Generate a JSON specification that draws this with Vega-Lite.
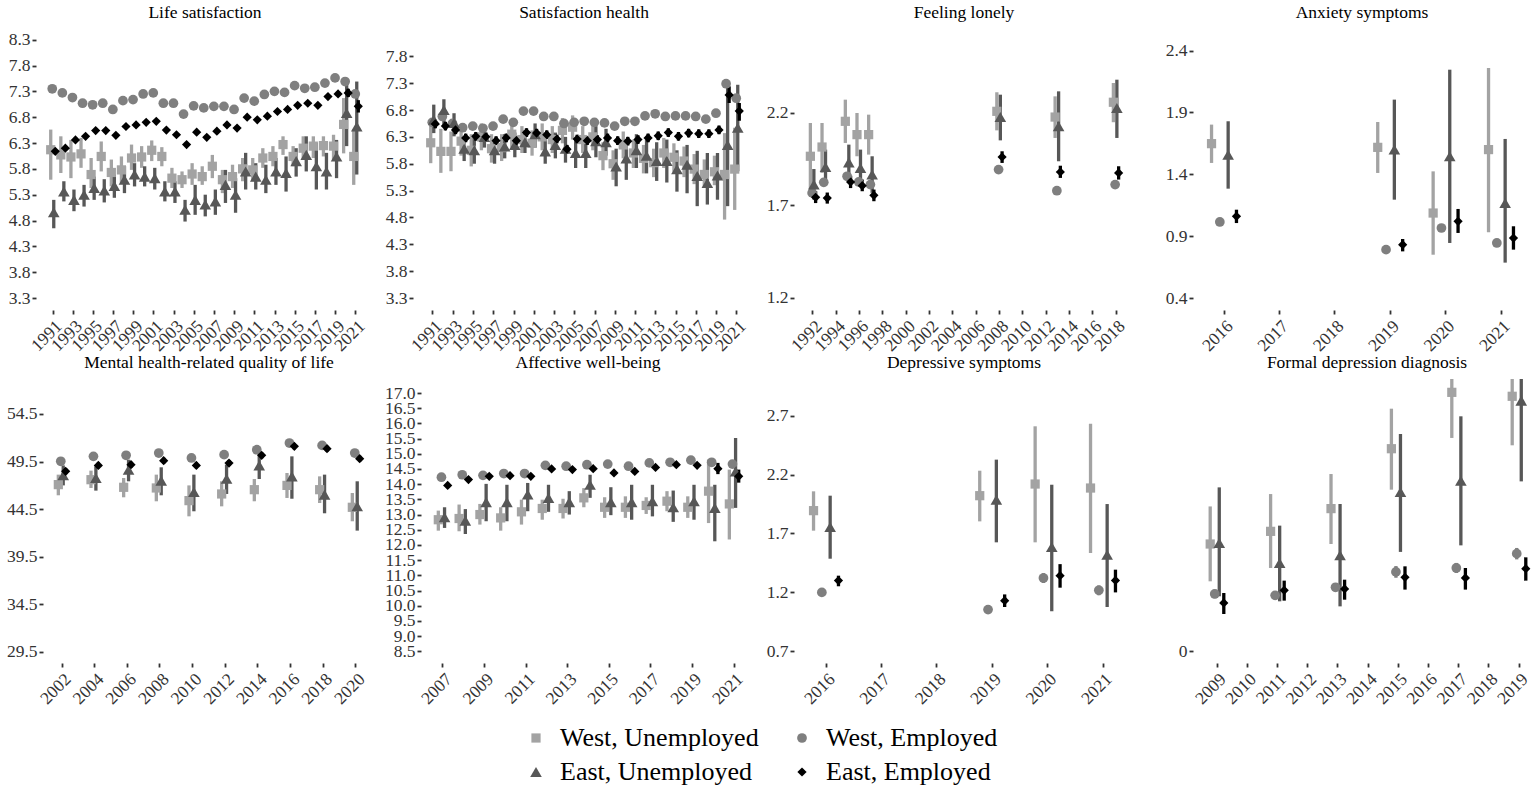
{
"$schema": "https://vega.github.io/schema/vega-lite/v6.json",
"background": "white",
"padding": {"left": 6, "top": 3, "right": 0, "bottom": 0},
"autosize": {"type": "pad"},
"config": {
 "font": "Liberation Serif",
 "view": {"stroke": null},
 "axis": {"grid": false, "domain": false, "tickColor": "#333333", "tickWidth": 1.8, "tickSize": 4, "labelFont": "Liberation Serif", "labelFontSize": 17.5, "labelColor": "#333333", "labelOverlap": false},
 "axisX": {"labelAngle": -45, "labelAlign": "right", "labelBaseline": "top", "labelPadding": 3},
 "axisY": {"labelPadding": 2},
 "title": {"font": "Liberation Serif", "fontSize": 17.5, "fontWeight": "normal", "color": "#000000", "anchor": "middle", "frame": "group", "baseline": "bottom", "offset": 8},
 "point": {"filled": true, "opacity": 1, "strokeWidth": 0},
 "rule": {"strokeWidth": 3.3}
},
"resolve": {"scale": {"xOffset": "independent"}},
"datasets": {
"life": [
{"yr":1991,"g":"WU","v":6.17,"lo":5.59,"hi":6.56},{"yr":1992,"g":"WU","v":6.07,"lo":5.72,"hi":6.43},{"yr":1993,"g":"WU","v":6.03,"lo":5.62,"hi":6.36},{"yr":1994,"g":"WU","v":6.09,"lo":5.82,"hi":6.40},{"yr":1995,"g":"WU","v":5.69,"lo":5.43,"hi":6.01},{"yr":1996,"g":"WU","v":6.04,"lo":5.75,"hi":6.33},{"yr":1997,"g":"WU","v":5.73,"lo":5.46,"hi":5.98},{"yr":1998,"g":"WU","v":5.78,"lo":5.53,"hi":6.04},{"yr":1999,"g":"WU","v":6.01,"lo":5.78,"hi":6.27},{"yr":2000,"g":"WU","v":6.03,"lo":5.82,"hi":6.24},{"yr":2001,"g":"WU","v":6.16,"lo":5.95,"hi":6.35},{"yr":2002,"g":"WU","v":6.04,"lo":5.85,"hi":6.22},{"yr":2003,"g":"WU","v":5.62,"lo":5.43,"hi":5.82},{"yr":2004,"g":"WU","v":5.59,"lo":5.43,"hi":5.75},{"yr":2005,"g":"WU","v":5.70,"lo":5.49,"hi":5.91},{"yr":2006,"g":"WU","v":5.65,"lo":5.49,"hi":5.85},{"yr":2007,"g":"WU","v":5.85,"lo":5.62,"hi":6.07},{"yr":2008,"g":"WU","v":5.59,"lo":5.33,"hi":5.78},{"yr":2009,"g":"WU","v":5.65,"lo":5.43,"hi":5.88},{"yr":2010,"g":"WU","v":5.80,"lo":5.56,"hi":6.01},{"yr":2011,"g":"WU","v":5.78,"lo":5.56,"hi":6.01},{"yr":2012,"g":"WU","v":6.01,"lo":5.82,"hi":6.20},{"yr":2013,"g":"WU","v":6.04,"lo":5.85,"hi":6.24},{"yr":2014,"g":"WU","v":6.27,"lo":6.07,"hi":6.43},{"yr":2015,"g":"WU","v":6.04,"lo":5.85,"hi":6.24},{"yr":2016,"g":"WU","v":6.20,"lo":5.98,"hi":6.43},{"yr":2017,"g":"WU","v":6.24,"lo":6.01,"hi":6.43},{"yr":2018,"g":"WU","v":6.25,"lo":6.04,"hi":6.43},{"yr":2019,"g":"WU","v":6.24,"lo":5.98,"hi":6.46},{"yr":2020,"g":"WU","v":6.66,"lo":6.10,"hi":7.17},{"yr":2021,"g":"WU","v":6.04,"lo":5.49,"hi":6.56},
{"yr":1991,"g":"WE","v":7.35,"lo":7.32,"hi":7.38},{"yr":1992,"g":"WE","v":7.27,"lo":7.24,"hi":7.30},{"yr":1993,"g":"WE","v":7.18,"lo":7.15,"hi":7.21},{"yr":1994,"g":"WE","v":7.07,"lo":7.04,"hi":7.10},{"yr":1995,"g":"WE","v":7.04,"lo":7.01,"hi":7.07},{"yr":1996,"g":"WE","v":7.07,"lo":7.04,"hi":7.10},{"yr":1997,"g":"WE","v":6.95,"lo":6.92,"hi":6.98},{"yr":1998,"g":"WE","v":7.12,"lo":7.09,"hi":7.15},{"yr":1999,"g":"WE","v":7.14,"lo":7.11,"hi":7.17},{"yr":2000,"g":"WE","v":7.25,"lo":7.22,"hi":7.28},{"yr":2001,"g":"WE","v":7.27,"lo":7.24,"hi":7.30},{"yr":2002,"g":"WE","v":7.07,"lo":7.04,"hi":7.10},{"yr":2003,"g":"WE","v":7.07,"lo":7.04,"hi":7.10},{"yr":2004,"g":"WE","v":6.86,"lo":6.83,"hi":6.89},{"yr":2005,"g":"WE","v":7.02,"lo":6.99,"hi":7.05},{"yr":2006,"g":"WE","v":6.98,"lo":6.95,"hi":7.01},{"yr":2007,"g":"WE","v":7.01,"lo":6.98,"hi":7.04},{"yr":2008,"g":"WE","v":7.01,"lo":6.98,"hi":7.04},{"yr":2009,"g":"WE","v":6.95,"lo":6.92,"hi":6.98},{"yr":2010,"g":"WE","v":7.17,"lo":7.14,"hi":7.20},{"yr":2011,"g":"WE","v":7.11,"lo":7.08,"hi":7.14},{"yr":2012,"g":"WE","v":7.24,"lo":7.21,"hi":7.27},{"yr":2013,"g":"WE","v":7.30,"lo":7.27,"hi":7.33},{"yr":2014,"g":"WE","v":7.28,"lo":7.25,"hi":7.31},{"yr":2015,"g":"WE","v":7.41,"lo":7.38,"hi":7.44},{"yr":2016,"g":"WE","v":7.36,"lo":7.33,"hi":7.39},{"yr":2017,"g":"WE","v":7.38,"lo":7.35,"hi":7.41},{"yr":2018,"g":"WE","v":7.46,"lo":7.43,"hi":7.49},{"yr":2019,"g":"WE","v":7.56,"lo":7.53,"hi":7.59},{"yr":2020,"g":"WE","v":7.49,"lo":7.45,"hi":7.53},{"yr":2021,"g":"WE","v":7.25,"lo":7.21,"hi":7.29},
{"yr":1991,"g":"EU","v":4.96,"lo":4.65,"hi":5.20},{"yr":1992,"g":"EU","v":5.36,"lo":5.17,"hi":5.56},{"yr":1993,"g":"EU","v":5.20,"lo":4.98,"hi":5.40},{"yr":1994,"g":"EU","v":5.30,"lo":5.07,"hi":5.49},{"yr":1995,"g":"EU","v":5.43,"lo":5.20,"hi":5.65},{"yr":1996,"g":"EU","v":5.38,"lo":5.15,"hi":5.60},{"yr":1997,"g":"EU","v":5.47,"lo":5.24,"hi":5.69},{"yr":1998,"g":"EU","v":5.59,"lo":5.33,"hi":5.85},{"yr":1999,"g":"EU","v":5.69,"lo":5.46,"hi":5.91},{"yr":2000,"g":"EU","v":5.65,"lo":5.46,"hi":5.85},{"yr":2001,"g":"EU","v":5.62,"lo":5.40,"hi":5.82},{"yr":2002,"g":"EU","v":5.36,"lo":5.17,"hi":5.56},{"yr":2003,"g":"EU","v":5.36,"lo":5.14,"hi":5.56},{"yr":2004,"g":"EU","v":5.01,"lo":4.78,"hi":5.20},{"yr":2005,"g":"EU","v":5.20,"lo":4.91,"hi":5.49},{"yr":2006,"g":"EU","v":5.11,"lo":4.88,"hi":5.30},{"yr":2007,"g":"EU","v":5.17,"lo":4.91,"hi":5.40},{"yr":2008,"g":"EU","v":5.49,"lo":5.14,"hi":5.78},{"yr":2009,"g":"EU","v":5.30,"lo":4.95,"hi":5.62},{"yr":2010,"g":"EU","v":5.75,"lo":5.40,"hi":6.11},{"yr":2011,"g":"EU","v":5.65,"lo":5.40,"hi":5.91},{"yr":2012,"g":"EU","v":5.59,"lo":5.33,"hi":5.88},{"yr":2013,"g":"EU","v":5.75,"lo":5.49,"hi":6.01},{"yr":2014,"g":"EU","v":5.72,"lo":5.36,"hi":6.04},{"yr":2015,"g":"EU","v":5.95,"lo":5.65,"hi":6.20},{"yr":2016,"g":"EU","v":6.07,"lo":5.75,"hi":6.43},{"yr":2017,"g":"EU","v":5.85,"lo":5.40,"hi":6.30},{"yr":2018,"g":"EU","v":5.75,"lo":5.40,"hi":6.11},{"yr":2019,"g":"EU","v":6.04,"lo":5.62,"hi":6.36},{"yr":2020,"g":"EU","v":6.88,"lo":6.24,"hi":7.49},{"yr":2021,"g":"EU","v":6.62,"lo":5.69,"hi":7.49},
{"yr":1991,"g":"EE","v":6.14,"lo":6.10,"hi":6.18},{"yr":1992,"g":"EE","v":6.20,"lo":6.16,"hi":6.24},{"yr":1993,"g":"EE","v":6.36,"lo":6.32,"hi":6.40},{"yr":1994,"g":"EE","v":6.43,"lo":6.39,"hi":6.47},{"yr":1995,"g":"EE","v":6.54,"lo":6.50,"hi":6.58},{"yr":1996,"g":"EE","v":6.54,"lo":6.50,"hi":6.58},{"yr":1997,"g":"EE","v":6.45,"lo":6.41,"hi":6.49},{"yr":1998,"g":"EE","v":6.62,"lo":6.58,"hi":6.66},{"yr":1999,"g":"EE","v":6.65,"lo":6.61,"hi":6.69},{"yr":2000,"g":"EE","v":6.70,"lo":6.66,"hi":6.74},{"yr":2001,"g":"EE","v":6.72,"lo":6.68,"hi":6.76},{"yr":2002,"g":"EE","v":6.55,"lo":6.51,"hi":6.59},{"yr":2003,"g":"EE","v":6.46,"lo":6.42,"hi":6.50},{"yr":2004,"g":"EE","v":6.27,"lo":6.23,"hi":6.31},{"yr":2005,"g":"EE","v":6.51,"lo":6.47,"hi":6.55},{"yr":2006,"g":"EE","v":6.41,"lo":6.37,"hi":6.45},{"yr":2007,"g":"EE","v":6.53,"lo":6.49,"hi":6.57},{"yr":2008,"g":"EE","v":6.65,"lo":6.61,"hi":6.69},{"yr":2009,"g":"EE","v":6.59,"lo":6.55,"hi":6.63},{"yr":2010,"g":"EE","v":6.80,"lo":6.76,"hi":6.84},{"yr":2011,"g":"EE","v":6.75,"lo":6.71,"hi":6.79},{"yr":2012,"g":"EE","v":6.82,"lo":6.78,"hi":6.86},{"yr":2013,"g":"EE","v":6.91,"lo":6.87,"hi":6.95},{"yr":2014,"g":"EE","v":6.95,"lo":6.91,"hi":6.99},{"yr":2015,"g":"EE","v":7.03,"lo":6.99,"hi":7.07},{"yr":2016,"g":"EE","v":7.07,"lo":7.03,"hi":7.11},{"yr":2017,"g":"EE","v":7.03,"lo":6.99,"hi":7.07},{"yr":2018,"g":"EE","v":7.20,"lo":7.16,"hi":7.24},{"yr":2019,"g":"EE","v":7.25,"lo":7.21,"hi":7.29},{"yr":2020,"g":"EE","v":7.27,"lo":7.19,"hi":7.35},{"yr":2021,"g":"EE","v":7.01,"lo":6.89,"hi":7.13}
],
"health": [
{"yr":1991,"g":"WU","v":6.19,"lo":5.81,"hi":6.56},{"yr":1992,"g":"WU","v":6.03,"lo":5.63,"hi":6.45},{"yr":1993,"g":"WU","v":6.03,"lo":5.66,"hi":6.40},{"yr":1994,"g":"WU","v":6.22,"lo":5.95,"hi":6.45},{"yr":1995,"g":"WU","v":6.05,"lo":5.75,"hi":6.35},{"yr":1996,"g":"WU","v":6.30,"lo":6.05,"hi":6.55},{"yr":1997,"g":"WU","v":6.08,"lo":5.82,"hi":6.35},{"yr":1998,"g":"WU","v":6.10,"lo":5.85,"hi":6.35},{"yr":1999,"g":"WU","v":6.35,"lo":6.10,"hi":6.60},{"yr":2000,"g":"WU","v":6.25,"lo":6.00,"hi":6.50},{"yr":2001,"g":"WU","v":6.18,"lo":5.95,"hi":6.42},{"yr":2002,"g":"WU","v":6.30,"lo":6.05,"hi":6.55},{"yr":2003,"g":"WU","v":6.25,"lo":6.00,"hi":6.50},{"yr":2004,"g":"WU","v":6.42,"lo":6.18,"hi":6.65},{"yr":2005,"g":"WU","v":6.48,"lo":6.25,"hi":6.70},{"yr":2006,"g":"WU","v":6.25,"lo":6.00,"hi":6.50},{"yr":2007,"g":"WU","v":6.30,"lo":6.05,"hi":6.55},{"yr":2008,"g":"WU","v":5.95,"lo":5.68,"hi":6.20},{"yr":2009,"g":"WU","v":5.80,"lo":5.50,"hi":6.05},{"yr":2010,"g":"WU","v":6.15,"lo":5.90,"hi":6.40},{"yr":2011,"g":"WU","v":6.00,"lo":5.72,"hi":6.25},{"yr":2012,"g":"WU","v":5.90,"lo":5.62,"hi":6.15},{"yr":2013,"g":"WU","v":5.82,"lo":5.55,"hi":6.08},{"yr":2014,"g":"WU","v":6.00,"lo":5.72,"hi":6.28},{"yr":2015,"g":"WU","v":5.92,"lo":5.65,"hi":6.18},{"yr":2016,"g":"WU","v":5.85,"lo":5.55,"hi":6.12},{"yr":2017,"g":"WU","v":5.70,"lo":5.42,"hi":5.98},{"yr":2018,"g":"WU","v":5.60,"lo":5.35,"hi":5.88},{"yr":2019,"g":"WU","v":5.65,"lo":5.40,"hi":5.95},{"yr":2020,"g":"WU","v":5.60,"lo":4.76,"hi":6.37},{"yr":2021,"g":"WU","v":5.70,"lo":4.94,"hi":6.47},
{"yr":1991,"g":"WE","v":6.57,"lo":6.53,"hi":6.61},{"yr":1992,"g":"WE","v":6.68,"lo":6.64,"hi":6.72},{"yr":1993,"g":"WE","v":6.55,"lo":6.51,"hi":6.59},{"yr":1994,"g":"WE","v":6.47,"lo":6.43,"hi":6.51},{"yr":1995,"g":"WE","v":6.50,"lo":6.46,"hi":6.54},{"yr":1996,"g":"WE","v":6.46,"lo":6.42,"hi":6.50},{"yr":1997,"g":"WE","v":6.50,"lo":6.46,"hi":6.54},{"yr":1998,"g":"WE","v":6.63,"lo":6.59,"hi":6.67},{"yr":1999,"g":"WE","v":6.57,"lo":6.53,"hi":6.61},{"yr":2000,"g":"WE","v":6.78,"lo":6.74,"hi":6.82},{"yr":2001,"g":"WE","v":6.78,"lo":6.74,"hi":6.82},{"yr":2002,"g":"WE","v":6.68,"lo":6.64,"hi":6.72},{"yr":2003,"g":"WE","v":6.68,"lo":6.64,"hi":6.72},{"yr":2004,"g":"WE","v":6.55,"lo":6.51,"hi":6.59},{"yr":2005,"g":"WE","v":6.57,"lo":6.53,"hi":6.61},{"yr":2006,"g":"WE","v":6.59,"lo":6.55,"hi":6.63},{"yr":2007,"g":"WE","v":6.57,"lo":6.53,"hi":6.61},{"yr":2008,"g":"WE","v":6.56,"lo":6.52,"hi":6.60},{"yr":2009,"g":"WE","v":6.50,"lo":6.46,"hi":6.54},{"yr":2010,"g":"WE","v":6.59,"lo":6.55,"hi":6.63},{"yr":2011,"g":"WE","v":6.59,"lo":6.55,"hi":6.63},{"yr":2012,"g":"WE","v":6.69,"lo":6.65,"hi":6.73},{"yr":2013,"g":"WE","v":6.73,"lo":6.69,"hi":6.77},{"yr":2014,"g":"WE","v":6.68,"lo":6.64,"hi":6.72},{"yr":2015,"g":"WE","v":6.69,"lo":6.65,"hi":6.73},{"yr":2016,"g":"WE","v":6.69,"lo":6.65,"hi":6.73},{"yr":2017,"g":"WE","v":6.68,"lo":6.64,"hi":6.72},{"yr":2018,"g":"WE","v":6.63,"lo":6.59,"hi":6.67},{"yr":2019,"g":"WE","v":6.74,"lo":6.70,"hi":6.78},{"yr":2020,"g":"WE","v":7.29,"lo":7.24,"hi":7.34},{"yr":2021,"g":"WE","v":7.02,"lo":6.97,"hi":7.07},
{"yr":1991,"g":"EU","v":6.62,"lo":6.37,"hi":6.90},{"yr":1992,"g":"EU","v":6.80,"lo":6.50,"hi":7.00},{"yr":1993,"g":"EU","v":6.56,"lo":6.31,"hi":6.74},{"yr":1994,"g":"EU","v":6.08,"lo":5.85,"hi":6.30},{"yr":1995,"g":"EU","v":6.05,"lo":5.80,"hi":6.30},{"yr":1996,"g":"EU","v":6.30,"lo":6.10,"hi":6.50},{"yr":1997,"g":"EU","v":6.05,"lo":5.80,"hi":6.25},{"yr":1998,"g":"EU","v":6.12,"lo":5.90,"hi":6.35},{"yr":1999,"g":"EU","v":6.15,"lo":5.92,"hi":6.38},{"yr":2000,"g":"EU","v":6.20,"lo":6.00,"hi":6.42},{"yr":2001,"g":"EU","v":6.35,"lo":6.10,"hi":6.55},{"yr":2002,"g":"EU","v":6.03,"lo":5.80,"hi":6.25},{"yr":2003,"g":"EU","v":6.15,"lo":5.90,"hi":6.38},{"yr":2004,"g":"EU","v":6.08,"lo":5.82,"hi":6.30},{"yr":2005,"g":"EU","v":6.00,"lo":5.72,"hi":6.25},{"yr":2006,"g":"EU","v":6.00,"lo":5.72,"hi":6.28},{"yr":2007,"g":"EU","v":6.22,"lo":5.92,"hi":6.50},{"yr":2008,"g":"EU","v":6.20,"lo":5.95,"hi":6.45},{"yr":2009,"g":"EU","v":5.75,"lo":5.38,"hi":6.08},{"yr":2010,"g":"EU","v":5.90,"lo":5.50,"hi":6.25},{"yr":2011,"g":"EU","v":6.05,"lo":5.72,"hi":6.35},{"yr":2012,"g":"EU","v":5.95,"lo":5.62,"hi":6.25},{"yr":2013,"g":"EU","v":5.85,"lo":5.48,"hi":6.20},{"yr":2014,"g":"EU","v":5.85,"lo":5.45,"hi":6.25},{"yr":2015,"g":"EU","v":5.70,"lo":5.28,"hi":6.05},{"yr":2016,"g":"EU","v":5.78,"lo":5.25,"hi":6.15},{"yr":2017,"g":"EU","v":5.57,"lo":5.01,"hi":6.04},{"yr":2018,"g":"EU","v":5.44,"lo":5.04,"hi":6.00},{"yr":2019,"g":"EU","v":5.58,"lo":5.13,"hi":6.00},{"yr":2020,"g":"EU","v":6.15,"lo":5.01,"hi":7.24},{"yr":2021,"g":"EU","v":6.47,"lo":5.66,"hi":7.27},
{"yr":1991,"g":"EE","v":6.54,"lo":6.46,"hi":6.62},{"yr":1992,"g":"EE","v":6.50,"lo":6.42,"hi":6.58},{"yr":1993,"g":"EE","v":6.43,"lo":6.35,"hi":6.51},{"yr":1994,"g":"EE","v":6.28,"lo":6.20,"hi":6.36},{"yr":1995,"g":"EE","v":6.31,"lo":6.23,"hi":6.39},{"yr":1996,"g":"EE","v":6.30,"lo":6.22,"hi":6.38},{"yr":1997,"g":"EE","v":6.23,"lo":6.15,"hi":6.31},{"yr":1998,"g":"EE","v":6.28,"lo":6.20,"hi":6.36},{"yr":1999,"g":"EE","v":6.23,"lo":6.15,"hi":6.31},{"yr":2000,"g":"EE","v":6.38,"lo":6.30,"hi":6.46},{"yr":2001,"g":"EE","v":6.37,"lo":6.29,"hi":6.45},{"yr":2002,"g":"EE","v":6.34,"lo":6.26,"hi":6.42},{"yr":2003,"g":"EE","v":6.26,"lo":6.18,"hi":6.34},{"yr":2004,"g":"EE","v":6.07,"lo":5.99,"hi":6.15},{"yr":2005,"g":"EE","v":6.26,"lo":6.18,"hi":6.34},{"yr":2006,"g":"EE","v":6.23,"lo":6.15,"hi":6.31},{"yr":2007,"g":"EE","v":6.25,"lo":6.17,"hi":6.33},{"yr":2008,"g":"EE","v":6.28,"lo":6.20,"hi":6.36},{"yr":2009,"g":"EE","v":6.23,"lo":6.15,"hi":6.31},{"yr":2010,"g":"EE","v":6.22,"lo":6.14,"hi":6.30},{"yr":2011,"g":"EE","v":6.25,"lo":6.17,"hi":6.33},{"yr":2012,"g":"EE","v":6.28,"lo":6.20,"hi":6.36},{"yr":2013,"g":"EE","v":6.32,"lo":6.24,"hi":6.40},{"yr":2014,"g":"EE","v":6.38,"lo":6.30,"hi":6.46},{"yr":2015,"g":"EE","v":6.31,"lo":6.23,"hi":6.39},{"yr":2016,"g":"EE","v":6.37,"lo":6.29,"hi":6.45},{"yr":2017,"g":"EE","v":6.36,"lo":6.28,"hi":6.44},{"yr":2018,"g":"EE","v":6.36,"lo":6.28,"hi":6.44},{"yr":2019,"g":"EE","v":6.43,"lo":6.35,"hi":6.51},{"yr":2020,"g":"EE","v":7.08,"lo":6.93,"hi":7.24},{"yr":2021,"g":"EE","v":6.78,"lo":6.60,"hi":6.93}
],
"lonely": [
{"yr":1992,"g":"WU","v":1.966,"lo":1.786,"hi":2.146},{"yr":1993,"g":"WU","v":2.016,"lo":1.876,"hi":2.146},{"yr":1995,"g":"WU","v":2.155,"lo":2.038,"hi":2.272},{"yr":1996,"g":"WU","v":2.083,"lo":1.966,"hi":2.2},{"yr":1997,"g":"WU","v":2.083,"lo":1.975,"hi":2.191},{"yr":2008,"g":"WU","v":2.209,"lo":2.106,"hi":2.312},{"yr":2013,"g":"WU","v":2.178,"lo":2.065,"hi":2.29},{"yr":2018,"g":"WU","v":2.258,"lo":2.15,"hi":2.362},
{"yr":1992,"g":"WE","v":1.768,"lo":1.76,"hi":1.776},{"yr":1993,"g":"WE","v":1.825,"lo":1.817,"hi":1.833},{"yr":1995,"g":"WE","v":1.858,"lo":1.85,"hi":1.866},{"yr":1996,"g":"WE","v":1.827,"lo":1.819,"hi":1.835},{"yr":1997,"g":"WE","v":1.813,"lo":1.805,"hi":1.821},{"yr":2008,"g":"WE","v":1.894,"lo":1.886,"hi":1.902},{"yr":2013,"g":"WE","v":1.78,"lo":1.772,"hi":1.788},{"yr":2018,"g":"WE","v":1.813,"lo":1.805,"hi":1.821},
{"yr":1992,"g":"EU","v":1.813,"lo":1.732,"hi":1.897},{"yr":1993,"g":"EU","v":1.908,"lo":1.813,"hi":2.002},{"yr":1995,"g":"EU","v":1.933,"lo":1.822,"hi":2.029},{"yr":1996,"g":"EU","v":1.903,"lo":1.804,"hi":2.002},{"yr":1997,"g":"EU","v":1.867,"lo":1.768,"hi":1.966},{"yr":2008,"g":"EU","v":2.178,"lo":2.052,"hi":2.299},{"yr":2013,"g":"EU","v":2.128,"lo":1.939,"hi":2.317},{"yr":2018,"g":"EU","v":2.227,"lo":2.065,"hi":2.38},
{"yr":1992,"g":"EE","v":1.744,"lo":1.713,"hi":1.777},{"yr":1993,"g":"EE","v":1.74,"lo":1.71,"hi":1.77},{"yr":1995,"g":"EE","v":1.827,"lo":1.794,"hi":1.861},{"yr":1996,"g":"EE","v":1.807,"lo":1.777,"hi":1.84},{"yr":1997,"g":"EE","v":1.755,"lo":1.723,"hi":1.786},{"yr":2008,"g":"EE","v":1.962,"lo":1.93,"hi":1.993},{"yr":2013,"g":"EE","v":1.881,"lo":1.849,"hi":1.915},{"yr":2018,"g":"EE","v":1.876,"lo":1.84,"hi":1.912}
],
"anx": [
{"yr":2016,"g":"WU","v":1.648,"lo":1.492,"hi":1.802},{"yr":2019,"g":"WU","v":1.618,"lo":1.411,"hi":1.823},{"yr":2020,"g":"WU","v":1.087,"lo":0.75,"hi":1.424},{"yr":2021,"g":"WU","v":1.6,"lo":0.931,"hi":2.26},
{"yr":2016,"g":"WE","v":1.015,"lo":1.0,"hi":1.03},{"yr":2019,"g":"WE","v":0.791,"lo":0.78,"hi":0.8},{"yr":2020,"g":"WE","v":0.966,"lo":0.94,"hi":0.99},{"yr":2021,"g":"WE","v":0.845,"lo":0.82,"hi":0.87},
{"yr":2016,"g":"EU","v":1.559,"lo":1.284,"hi":1.829},{"yr":2019,"g":"EU","v":1.6,"lo":1.195,"hi":2.004},{"yr":2020,"g":"EU","v":1.546,"lo":0.845,"hi":2.246},{"yr":2021,"g":"EU","v":1.168,"lo":0.686,"hi":1.686},
{"yr":2016,"g":"EE","v":1.06,"lo":1.006,"hi":1.114},{"yr":2019,"g":"EE","v":0.831,"lo":0.777,"hi":0.877},{"yr":2020,"g":"EE","v":1.02,"lo":0.926,"hi":1.12},{"yr":2021,"g":"EE","v":0.885,"lo":0.791,"hi":0.98}
],
"mhq": [
{"yr":2002,"g":"WU","v":47.08,"lo":45.96,"hi":48.13},{"yr":2004,"g":"WU","v":47.6,"lo":46.73,"hi":48.55},{"yr":2006,"g":"WU","v":46.8,"lo":45.75,"hi":47.78},{"yr":2008,"g":"WU","v":46.73,"lo":45.33,"hi":48.13},{"yr":2010,"g":"WU","v":45.4,"lo":43.75,"hi":47.0},{"yr":2012,"g":"WU","v":46.1,"lo":44.8,"hi":47.43},{"yr":2014,"g":"WU","v":46.55,"lo":45.33,"hi":47.67},{"yr":2016,"g":"WU","v":47.0,"lo":45.68,"hi":48.3},{"yr":2018,"g":"WU","v":46.55,"lo":45.15,"hi":47.95},{"yr":2020,"g":"WU","v":44.7,"lo":43.23,"hi":46.2},
{"yr":2002,"g":"WE","v":49.53,"lo":49.38,"hi":49.68},{"yr":2004,"g":"WE","v":50.05,"lo":49.9,"hi":50.2},{"yr":2006,"g":"WE","v":50.16,"lo":50.01,"hi":50.31},{"yr":2008,"g":"WE","v":50.4,"lo":50.25,"hi":50.55},{"yr":2010,"g":"WE","v":49.88,"lo":49.73,"hi":50.03},{"yr":2012,"g":"WE","v":50.23,"lo":50.08,"hi":50.38},{"yr":2014,"g":"WE","v":50.75,"lo":50.6,"hi":50.9},{"yr":2016,"g":"WE","v":51.45,"lo":51.3,"hi":51.6},{"yr":2018,"g":"WE","v":51.2,"lo":51.05,"hi":51.35},{"yr":2020,"g":"WE","v":50.4,"lo":50.25,"hi":50.55},
{"yr":2002,"g":"EU","v":48.06,"lo":47.0,"hi":49.1},{"yr":2004,"g":"EU","v":47.78,"lo":46.45,"hi":49.0},{"yr":2006,"g":"EU","v":48.65,"lo":47.43,"hi":49.7},{"yr":2008,"g":"EU","v":47.5,"lo":45.96,"hi":48.9},{"yr":2010,"g":"EU","v":46.3,"lo":44.28,"hi":48.13},{"yr":2012,"g":"EU","v":47.7,"lo":46.1,"hi":49.18},{"yr":2014,"g":"EU","v":49.1,"lo":47.67,"hi":50.3},{"yr":2016,"g":"EU","v":47.95,"lo":45.6,"hi":50.05},{"yr":2018,"g":"EU","v":46.03,"lo":44.07,"hi":48.13},{"yr":2020,"g":"EU","v":44.8,"lo":42.25,"hi":47.43},
{"yr":2002,"g":"EE","v":48.48,"lo":48.18,"hi":48.78},{"yr":2004,"g":"EE","v":49.1,"lo":48.8,"hi":49.4},{"yr":2006,"g":"EE","v":49.18,"lo":48.88,"hi":49.48},{"yr":2008,"g":"EE","v":49.6,"lo":49.3,"hi":49.9},{"yr":2010,"g":"EE","v":49.1,"lo":48.8,"hi":49.4},{"yr":2012,"g":"EE","v":49.35,"lo":49.05,"hi":49.65},{"yr":2014,"g":"EE","v":50.16,"lo":49.86,"hi":50.46},{"yr":2016,"g":"EE","v":51.1,"lo":50.8,"hi":51.4},{"yr":2018,"g":"EE","v":50.86,"lo":50.56,"hi":51.16},{"yr":2020,"g":"EE","v":49.81,"lo":49.51,"hi":50.11}
],
"aff": [
{"yr":2007,"g":"WU","v":12.83,"lo":12.47,"hi":13.13},{"yr":2008,"g":"WU","v":12.87,"lo":12.45,"hi":13.33},{"yr":2009,"g":"WU","v":13.0,"lo":12.67,"hi":13.35},{"yr":2010,"g":"WU","v":12.89,"lo":12.47,"hi":13.24},{"yr":2011,"g":"WU","v":13.09,"lo":12.67,"hi":13.49},{"yr":2012,"g":"WU","v":13.2,"lo":12.83,"hi":13.49},{"yr":2013,"g":"WU","v":13.2,"lo":12.87,"hi":13.52},{"yr":2014,"g":"WU","v":13.55,"lo":13.24,"hi":13.87},{"yr":2015,"g":"WU","v":13.24,"lo":12.89,"hi":13.57},{"yr":2016,"g":"WU","v":13.24,"lo":12.89,"hi":13.6},{"yr":2017,"g":"WU","v":13.3,"lo":13.02,"hi":13.57},{"yr":2018,"g":"WU","v":13.44,"lo":13.11,"hi":13.77},{"yr":2019,"g":"WU","v":13.24,"lo":12.89,"hi":13.6},{"yr":2020,"g":"WU","v":13.77,"lo":12.72,"hi":14.81},{"yr":2021,"g":"WU","v":13.35,"lo":12.18,"hi":14.48},
{"yr":2007,"g":"WE","v":14.23,"lo":14.2,"hi":14.26},{"yr":2008,"g":"WE","v":14.31,"lo":14.28,"hi":14.34},{"yr":2009,"g":"WE","v":14.29,"lo":14.26,"hi":14.32},{"yr":2010,"g":"WE","v":14.35,"lo":14.32,"hi":14.38},{"yr":2011,"g":"WE","v":14.35,"lo":14.32,"hi":14.38},{"yr":2012,"g":"WE","v":14.62,"lo":14.59,"hi":14.65},{"yr":2013,"g":"WE","v":14.59,"lo":14.56,"hi":14.62},{"yr":2014,"g":"WE","v":14.64,"lo":14.61,"hi":14.67},{"yr":2015,"g":"WE","v":14.66,"lo":14.63,"hi":14.69},{"yr":2016,"g":"WE","v":14.59,"lo":14.56,"hi":14.62},{"yr":2017,"g":"WE","v":14.7,"lo":14.67,"hi":14.73},{"yr":2018,"g":"WE","v":14.72,"lo":14.69,"hi":14.75},{"yr":2019,"g":"WE","v":14.79,"lo":14.76,"hi":14.82},{"yr":2020,"g":"WE","v":14.72,"lo":14.68,"hi":14.76},{"yr":2021,"g":"WE","v":14.66,"lo":14.62,"hi":14.7},
{"yr":2007,"g":"EU","v":12.91,"lo":12.56,"hi":13.24},{"yr":2008,"g":"EU","v":12.8,"lo":12.36,"hi":13.18},{"yr":2009,"g":"EU","v":13.41,"lo":12.78,"hi":14.01},{"yr":2010,"g":"EU","v":13.41,"lo":12.78,"hi":13.98},{"yr":2011,"g":"EU","v":13.66,"lo":13.11,"hi":14.04},{"yr":2012,"g":"EU","v":13.55,"lo":13.09,"hi":13.98},{"yr":2013,"g":"EU","v":13.41,"lo":13.0,"hi":13.77},{"yr":2014,"g":"EU","v":13.98,"lo":13.55,"hi":14.31},{"yr":2015,"g":"EU","v":13.41,"lo":12.98,"hi":13.9},{"yr":2016,"g":"EU","v":13.41,"lo":12.83,"hi":13.98},{"yr":2017,"g":"EU","v":13.44,"lo":12.94,"hi":13.98},{"yr":2018,"g":"EU","v":13.24,"lo":12.76,"hi":13.79},{"yr":2019,"g":"EU","v":13.44,"lo":12.83,"hi":13.98},{"yr":2020,"g":"EU","v":13.22,"lo":12.12,"hi":13.98},{"yr":2021,"g":"EU","v":14.42,"lo":13.22,"hi":15.52},
{"yr":2007,"g":"EE","v":13.96,"lo":13.91,"hi":14.01},{"yr":2008,"g":"EE","v":14.15,"lo":14.1,"hi":14.2},{"yr":2009,"g":"EE","v":14.26,"lo":14.21,"hi":14.31},{"yr":2010,"g":"EE","v":14.28,"lo":14.23,"hi":14.33},{"yr":2011,"g":"EE","v":14.26,"lo":14.21,"hi":14.31},{"yr":2012,"g":"EE","v":14.5,"lo":14.45,"hi":14.55},{"yr":2013,"g":"EE","v":14.48,"lo":14.43,"hi":14.53},{"yr":2014,"g":"EE","v":14.51,"lo":14.46,"hi":14.56},{"yr":2015,"g":"EE","v":14.37,"lo":14.32,"hi":14.42},{"yr":2016,"g":"EE","v":14.42,"lo":14.37,"hi":14.47},{"yr":2017,"g":"EE","v":14.55,"lo":14.5,"hi":14.6},{"yr":2018,"g":"EE","v":14.64,"lo":14.59,"hi":14.69},{"yr":2019,"g":"EE","v":14.62,"lo":14.57,"hi":14.67},{"yr":2020,"g":"EE","v":14.51,"lo":14.33,"hi":14.7},{"yr":2021,"g":"EE","v":14.26,"lo":14.05,"hi":14.48}
],
"dep": [
{"yr":2016,"g":"WU","v":1.894,"lo":1.724,"hi":2.058},{"yr":2019,"g":"WU","v":2.021,"lo":1.803,"hi":2.233},{"yr":2020,"g":"WU","v":2.12,"lo":1.625,"hi":2.61},{"yr":2021,"g":"WU","v":2.086,"lo":1.535,"hi":2.632},
{"yr":2016,"g":"WE","v":1.2,"lo":1.19,"hi":1.21},{"yr":2019,"g":"WE","v":1.054,"lo":1.045,"hi":1.063},{"yr":2020,"g":"WE","v":1.322,"lo":1.28,"hi":1.364},{"yr":2021,"g":"WE","v":1.218,"lo":1.176,"hi":1.26},
{"yr":2016,"g":"EU","v":1.755,"lo":1.486,"hi":2.021},{"yr":2019,"g":"EU","v":1.987,"lo":1.625,"hi":2.327},{"yr":2020,"g":"EU","v":1.585,"lo":1.04,"hi":2.114},{"yr":2021,"g":"EU","v":1.52,"lo":1.076,"hi":1.95},
{"yr":2016,"g":"EE","v":1.3,"lo":1.252,"hi":1.342},{"yr":2019,"g":"EE","v":1.13,"lo":1.076,"hi":1.183},{"yr":2020,"g":"EE","v":1.342,"lo":1.24,"hi":1.44},{"yr":2021,"g":"EE","v":1.302,"lo":1.2,"hi":1.393}
],
"diag": [
{"yr":2009,"g":"WU","v":0.0788,"lo":0.0514,"hi":0.1064},{"yr":2011,"g":"WU","v":0.0881,"lo":0.0612,"hi":0.1155},{"yr":2013,"g":"WU","v":0.1048,"lo":0.0788,"hi":0.1302},{"yr":2015,"g":"WU","v":0.1488,"lo":0.1187,"hi":0.1782},{"yr":2017,"g":"WU","v":0.1902,"lo":0.1567,"hi":0.215},{"yr":2019,"g":"WU","v":0.1873,"lo":0.1513,"hi":0.215},
{"yr":2009,"g":"WE","v":0.0421,"lo":0.039,"hi":0.0452},{"yr":2011,"g":"WE","v":0.0411,"lo":0.038,"hi":0.0442},{"yr":2013,"g":"WE","v":0.047,"lo":0.0439,"hi":0.0501},{"yr":2015,"g":"WE","v":0.0583,"lo":0.054,"hi":0.0626},{"yr":2017,"g":"WE","v":0.0612,"lo":0.0575,"hi":0.0649},{"yr":2019,"g":"WE","v":0.0717,"lo":0.0675,"hi":0.0759},
{"yr":2009,"g":"EU","v":0.0796,"lo":0.0404,"hi":0.1204},{"yr":2011,"g":"EU","v":0.0649,"lo":0.0367,"hi":0.0923},{"yr":2013,"g":"EU","v":0.0705,"lo":0.033,"hi":0.1082},{"yr":2015,"g":"EU","v":0.117,"lo":0.073,"hi":0.1596},{"yr":2017,"g":"EU","v":0.1253,"lo":0.0778,"hi":0.1726},{"yr":2019,"g":"EU","v":0.1841,"lo":0.1248,"hi":0.22},
{"yr":2009,"g":"EE","v":0.0355,"lo":0.0274,"hi":0.0428},{"yr":2011,"g":"EE","v":0.0448,"lo":0.0372,"hi":0.0519},{"yr":2013,"g":"EE","v":0.0458,"lo":0.0379,"hi":0.0526},{"yr":2015,"g":"EE","v":0.0543,"lo":0.0453,"hi":0.0624},{"yr":2017,"g":"EE","v":0.0539,"lo":0.0453,"hi":0.0612},{"yr":2019,"g":"EE","v":0.0607,"lo":0.0519,"hi":0.069}
]
},
"bounds": "flush",
"columns": 4,
"spacing": {"row": 69, "column": 0},
"concat": [
{"title": {"text": "Life satisfaction", "dx": -19.5}, "width": 377, "height": 281, "data": {"name": "life"},
 "encoding": {"x": {"field": "yr", "type": "ordinal", "title": null, "scale": {"type": "band", "domain": [1991,1992,1993,1994,1995,1996,1997,1998,1999,2000,2001,2002,2003,2004,2005,2006,2007,2008,2009,2010,2011,2012,2013,2014,2015,2016,2017,2018,2019,2020,2021], "paddingInner": 0.4, "paddingOuter": 0, "range": [13.97, 323.03]}, "axis": {"values": [1991,1993,1995,1997,1999,2001,2003,2005,2007,2009,2011,2013,2015,2017,2019,2021]}},
  "xOffset": {"field": "g", "type": "nominal", "scale": {"domain": ["WU","WE","EU","EE"], "paddingInner": 0, "paddingOuter": 0}},
  "y": {"field": "v", "type": "quantitative", "title": null, "scale": {"domain": [3.068, 8.507], "nice": false, "zero": false}, "axis": {"values": [3.3,3.8,4.3,4.8,5.3,5.8,6.3,6.8,7.3,7.8,8.3], "format": ".1f"}}},
 "layer": [
  {"transform": [{"filter": "datum.g == 'WU'"}], "mark": {"type": "rule", "color": "#a3a3a3"}, "encoding": {"y": {"field": "lo", "type": "quantitative"}, "y2": {"field": "hi"}}},
  {"transform": [{"filter": "datum.g == 'WE'"}], "mark": {"type": "rule", "color": "#7f7f7f"}, "encoding": {"y": {"field": "lo", "type": "quantitative"}, "y2": {"field": "hi"}}},
  {"transform": [{"filter": "datum.g == 'EU'"}], "mark": {"type": "rule", "color": "#575757"}, "encoding": {"y": {"field": "lo", "type": "quantitative"}, "y2": {"field": "hi"}}},
  {"transform": [{"filter": "datum.g == 'EE'"}], "mark": {"type": "rule", "color": "#000000"}, "encoding": {"y": {"field": "lo", "type": "quantitative"}, "y2": {"field": "hi"}}},
  {"mark": {"type": "point"}, "encoding": {
   "color": {"field": "g", "type": "nominal", "scale": {"domain": ["WU","WE","EU","EE"], "range": ["#a3a3a3","#7f7f7f","#575757","#000000"]}, "legend": {"title": null, "orient": "none", "legendX": 487, "legendY": 696, "direction": "horizontal", "columns": 2, "columnPadding": 30, "rowPadding": 8, "labelFontSize": 26, "labelFont": "Liberation Serif", "labelColor": "#000000", "labelLimit": 0, "labelOffset": 11, "labelExpr": "datum.label == 'WU' ? 'West, Unemployed' : datum.label == 'WE' ? 'West, Employed' : datum.label == 'EU' ? 'East, Unemployed' : 'East, Employed'"}},
   "shape": {"field": "g", "type": "nominal", "scale": {"domain": ["WU","WE","EU","EE"], "range": ["square","circle","triangle-up","diamond"]}, "legend": {"title": null, "orient": "none", "legendX": 487, "legendY": 696, "direction": "horizontal", "columns": 2, "columnPadding": 30, "rowPadding": 8, "labelFontSize": 26, "labelFont": "Liberation Serif", "labelColor": "#000000", "labelLimit": 0, "labelOffset": 11, "labelExpr": "datum.label == 'WU' ? 'West, Unemployed' : datum.label == 'WE' ? 'West, Employed' : datum.label == 'EU' ? 'East, Unemployed' : 'East, Employed'"}},
   "size": {"field": "g", "type": "nominal", "scale": {"type": "ordinal", "domain": ["WU","WE","EU","EE"], "range": [85,95,135,85]}, "legend": {"title": null, "orient": "none", "legendX": 487, "legendY": 696, "direction": "horizontal", "columns": 2, "columnPadding": 30, "rowPadding": 8, "labelFontSize": 26, "labelFont": "Liberation Serif", "labelColor": "#000000", "labelLimit": 0, "labelOffset": 11, "labelExpr": "datum.label == 'WU' ? 'West, Unemployed' : datum.label == 'WE' ? 'West, Employed' : datum.label == 'EU' ? 'East, Unemployed' : 'East, Employed'"}}}}
 ]},
{"title": {"text": "Satisfaction health", "dx": -19.5}, "width": 381, "height": 281, "data": {"name": "health"},
 "encoding": {"x": {"field": "yr", "type": "ordinal", "title": null, "scale": {"type": "band", "domain": [1991,1992,1993,1994,1995,1996,1997,1998,1999,2000,2001,2002,2003,2004,2005,2006,2007,2008,2009,2010,2011,2012,2013,2014,2015,2016,2017,2018,2019,2020,2021], "paddingInner": 0.4, "paddingOuter": 0, "range": [16.96, 327.03]}, "axis": {"values": [1991,1993,1995,1997,1999,2001,2003,2005,2007,2009,2011,2013,2015,2017,2019,2021]}},
  "xOffset": {"field": "g", "type": "nominal", "scale": {"domain": ["WU","WE","EU","EE"], "paddingInner": 0, "paddingOuter": 0}},
  "y": {"field": "v", "type": "quantitative", "title": null, "scale": {"domain": [3.077, 8.308], "nice": false, "zero": false}, "axis": {"values": [3.3,3.8,4.3,4.8,5.3,5.8,6.3,6.8,7.3,7.8], "format": ".1f"}}},
 "layer": [
  {"transform": [{"filter": "datum.g == 'WU'"}], "mark": {"type": "rule", "color": "#a3a3a3"}, "encoding": {"y": {"field": "lo", "type": "quantitative"}, "y2": {"field": "hi"}}},
  {"transform": [{"filter": "datum.g == 'WE'"}], "mark": {"type": "rule", "color": "#7f7f7f"}, "encoding": {"y": {"field": "lo", "type": "quantitative"}, "y2": {"field": "hi"}}},
  {"transform": [{"filter": "datum.g == 'EU'"}], "mark": {"type": "rule", "color": "#575757"}, "encoding": {"y": {"field": "lo", "type": "quantitative"}, "y2": {"field": "hi"}}},
  {"transform": [{"filter": "datum.g == 'EE'"}], "mark": {"type": "rule", "color": "#000000"}, "encoding": {"y": {"field": "lo", "type": "quantitative"}, "y2": {"field": "hi"}}},
  {"mark": {"type": "point"}, "encoding": {
   "color": {"field": "g", "type": "nominal", "scale": {"domain": ["WU","WE","EU","EE"], "range": ["#a3a3a3","#7f7f7f","#575757","#000000"]}},
   "shape": {"field": "g", "type": "nominal", "scale": {"domain": ["WU","WE","EU","EE"], "range": ["square","circle","triangle-up","diamond"]}},
   "size": {"field": "g", "type": "nominal", "scale": {"type": "ordinal", "domain": ["WU","WE","EU","EE"], "range": [85,95,135,85]}}}}
 ]},
{"title": {"text": "Feeling lonely", "dx": -29.5}, "width": 399, "height": 281, "data": {"name": "lonely"},
 "encoding": {"x": {"field": "yr", "type": "ordinal", "title": null, "scale": {"type": "band", "domain": [1992,1993,1994,1995,1996,1997,1998,1999,2000,2001,2002,2003,2004,2005,2006,2007,2008,2009,2010,2011,2012,2013,2014,2015,2016,2017,2018], "paddingInner": 0.4, "paddingOuter": 0, "range": [15.5, 325.5]}, "axis": {"values": [1992,1994,1996,1998,2000,2002,2004,2006,2008,2010,2012,2014,2016,2018]}},
  "xOffset": {"field": "g", "type": "nominal", "scale": {"domain": ["WU","WE","EU","EE"], "paddingInner": 0, "paddingOuter": 0}},
  "y": {"field": "v", "type": "quantitative", "title": null, "scale": {"domain": [1.135, 2.654], "nice": false, "zero": false}, "axis": {"values": [1.2,1.7,2.2], "format": ".1f"}}},
 "layer": [
  {"transform": [{"filter": "datum.g == 'WU'"}], "mark": {"type": "rule", "color": "#a3a3a3"}, "encoding": {"y": {"field": "lo", "type": "quantitative"}, "y2": {"field": "hi"}}},
  {"transform": [{"filter": "datum.g == 'WE'"}], "mark": {"type": "rule", "color": "#7f7f7f"}, "encoding": {"y": {"field": "lo", "type": "quantitative"}, "y2": {"field": "hi"}}},
  {"transform": [{"filter": "datum.g == 'EU'"}], "mark": {"type": "rule", "color": "#575757"}, "encoding": {"y": {"field": "lo", "type": "quantitative"}, "y2": {"field": "hi"}}},
  {"transform": [{"filter": "datum.g == 'EE'"}], "mark": {"type": "rule", "color": "#000000"}, "encoding": {"y": {"field": "lo", "type": "quantitative"}, "y2": {"field": "hi"}}},
  {"mark": {"type": "point"}, "encoding": {
   "color": {"field": "g", "type": "nominal", "scale": {"domain": ["WU","WE","EU","EE"], "range": ["#a3a3a3","#7f7f7f","#575757","#000000"]}},
   "shape": {"field": "g", "type": "nominal", "scale": {"domain": ["WU","WE","EU","EE"], "range": ["square","circle","triangle-up","diamond"]}},
   "size": {"field": "g", "type": "nominal", "scale": {"type": "ordinal", "domain": ["WU","WE","EU","EE"], "range": [85,95,135,85]}}}}
 ]},
{"title": {"text": "Anxiety symptoms", "dx": -4}, "width": 346, "height": 281, "data": {"name": "anx"},
 "encoding": {"x": {"field": "yr", "type": "ordinal", "title": null, "scale": {"type": "band", "domain": [2016,2017,2018,2019,2020,2021], "paddingInner": 0.4, "paddingOuter": 0, "range": [14.38, 324.62]}, "axis": {"values": [2016,2017,2018,2019,2020,2021]}},
  "xOffset": {"field": "g", "type": "nominal", "scale": {"domain": ["WU","WE","EU","EE"], "paddingInner": 0, "paddingOuter": 0}},
  "y": {"field": "v", "type": "quantitative", "title": null, "scale": {"domain": [0.303, 2.575], "nice": false, "zero": false}, "axis": {"values": [0.4,0.9,1.4,1.9,2.4], "format": ".1f"}}},
 "layer": [
  {"transform": [{"filter": "datum.g == 'WU'"}], "mark": {"type": "rule", "color": "#a3a3a3"}, "encoding": {"y": {"field": "lo", "type": "quantitative"}, "y2": {"field": "hi"}}},
  {"transform": [{"filter": "datum.g == 'WE'"}], "mark": {"type": "rule", "color": "#7f7f7f"}, "encoding": {"y": {"field": "lo", "type": "quantitative"}, "y2": {"field": "hi"}}},
  {"transform": [{"filter": "datum.g == 'EU'"}], "mark": {"type": "rule", "color": "#575757"}, "encoding": {"y": {"field": "lo", "type": "quantitative"}, "y2": {"field": "hi"}}},
  {"transform": [{"filter": "datum.g == 'EE'"}], "mark": {"type": "rule", "color": "#000000"}, "encoding": {"y": {"field": "lo", "type": "quantitative"}, "y2": {"field": "hi"}}},
  {"mark": {"type": "point"}, "encoding": {
   "color": {"field": "g", "type": "nominal", "scale": {"domain": ["WU","WE","EU","EE"], "range": ["#a3a3a3","#7f7f7f","#575757","#000000"]}},
   "shape": {"field": "g", "type": "nominal", "scale": {"domain": ["WU","WE","EU","EE"], "range": ["square","circle","triangle-up","diamond"]}},
   "size": {"field": "g", "type": "nominal", "scale": {"type": "ordinal", "domain": ["WU","WE","EU","EE"], "range": [85,95,135,85]}}}}
 ]},
{"title": {"text": "Mental health-related quality of life", "dx": -15.5}, "width": 377, "height": 284, "data": {"name": "mhq"},
 "encoding": {"x": {"field": "yr", "type": "ordinal", "title": null, "scale": {"type": "band", "domain": [2002,2003,2004,2005,2006,2007,2008,2009,2010,2011,2012,2013,2014,2015,2016,2017,2018,2019,2020], "paddingInner": 0.4, "paddingOuter": 0, "range": [21.1, 324.9]}, "axis": {"values": [2002,2004,2006,2008,2010,2012,2014,2016,2018,2020]}},
  "xOffset": {"field": "g", "type": "nominal", "scale": {"domain": ["WU","WE","EU","EE"], "paddingInner": 0, "paddingOuter": 0}},
  "y": {"field": "v", "type": "quantitative", "title": null, "scale": {"domain": [28.344, 58.176], "nice": false, "zero": false}, "axis": {"values": [29.5,34.5,39.5,44.5,49.5,54.5], "format": ".1f", "offset": -7}}},
 "layer": [
  {"transform": [{"filter": "datum.g == 'WU'"}], "mark": {"type": "rule", "color": "#a3a3a3"}, "encoding": {"y": {"field": "lo", "type": "quantitative"}, "y2": {"field": "hi"}}},
  {"transform": [{"filter": "datum.g == 'WE'"}], "mark": {"type": "rule", "color": "#7f7f7f"}, "encoding": {"y": {"field": "lo", "type": "quantitative"}, "y2": {"field": "hi"}}},
  {"transform": [{"filter": "datum.g == 'EU'"}], "mark": {"type": "rule", "color": "#575757"}, "encoding": {"y": {"field": "lo", "type": "quantitative"}, "y2": {"field": "hi"}}},
  {"transform": [{"filter": "datum.g == 'EE'"}], "mark": {"type": "rule", "color": "#000000"}, "encoding": {"y": {"field": "lo", "type": "quantitative"}, "y2": {"field": "hi"}}},
  {"mark": {"type": "point"}, "encoding": {
   "color": {"field": "g", "type": "nominal", "scale": {"domain": ["WU","WE","EU","EE"], "range": ["#a3a3a3","#7f7f7f","#575757","#000000"]}},
   "shape": {"field": "g", "type": "nominal", "scale": {"domain": ["WU","WE","EU","EE"], "range": ["square","circle","triangle-up","diamond"]}},
   "size": {"field": "g", "type": "nominal", "scale": {"type": "ordinal", "domain": ["WU","WE","EU","EE"], "range": [85,95,135,85]}}}}
 ]},
{"title": {"text": "Affective well-being", "dx": -15.5}, "width": 381, "height": 284, "data": {"name": "aff"},
 "encoding": {"x": {"field": "yr", "type": "ordinal", "title": null, "scale": {"type": "band", "domain": [2007,2008,2009,2010,2011,2012,2013,2014,2015,2016,2017,2018,2019,2020,2021], "paddingInner": 0.4, "paddingOuter": 0, "range": [23.76, 327.26]}, "axis": {"values": [2007,2009,2011,2013,2015,2017,2019,2021]}},
  "xOffset": {"field": "g", "type": "nominal", "scale": {"domain": ["WU","WE","EU","EE"], "paddingInner": 0, "paddingOuter": 0}},
  "y": {"field": "v", "type": "quantitative", "title": null, "scale": {"domain": [8.115, 17.461], "nice": false, "zero": false}, "axis": {"values": [8.5,9,9.5,10,10.5,11,11.5,12,12.5,13,13.5,14,14.5,15,15.5,16,16.5,17], "format": ".1f", "offset": -8}}},
 "layer": [
  {"transform": [{"filter": "datum.g == 'WU'"}], "mark": {"type": "rule", "color": "#a3a3a3"}, "encoding": {"y": {"field": "lo", "type": "quantitative"}, "y2": {"field": "hi"}}},
  {"transform": [{"filter": "datum.g == 'WE'"}], "mark": {"type": "rule", "color": "#7f7f7f"}, "encoding": {"y": {"field": "lo", "type": "quantitative"}, "y2": {"field": "hi"}}},
  {"transform": [{"filter": "datum.g == 'EU'"}], "mark": {"type": "rule", "color": "#575757"}, "encoding": {"y": {"field": "lo", "type": "quantitative"}, "y2": {"field": "hi"}}},
  {"transform": [{"filter": "datum.g == 'EE'"}], "mark": {"type": "rule", "color": "#000000"}, "encoding": {"y": {"field": "lo", "type": "quantitative"}, "y2": {"field": "hi"}}},
  {"mark": {"type": "point"}, "encoding": {
   "color": {"field": "g", "type": "nominal", "scale": {"domain": ["WU","WE","EU","EE"], "range": ["#a3a3a3","#7f7f7f","#575757","#000000"]}},
   "shape": {"field": "g", "type": "nominal", "scale": {"domain": ["WU","WE","EU","EE"], "range": ["square","circle","triangle-up","diamond"]}},
   "size": {"field": "g", "type": "nominal", "scale": {"type": "ordinal", "domain": ["WU","WE","EU","EE"], "range": [85,95,135,85]}}}}
 ]},
{"title": {"text": "Depressive symptoms", "dx": -29.5}, "width": 399, "height": 284, "data": {"name": "dep"},
 "encoding": {"x": {"field": "yr", "type": "ordinal", "title": null, "scale": {"type": "band", "domain": [2016,2017,2018,2019,2020,2021], "paddingInner": 0.4, "paddingOuter": 0, "range": [15.38, 325.62]}, "axis": {"values": [2016,2017,2018,2019,2020,2021]}},
  "xOffset": {"field": "g", "type": "nominal", "scale": {"domain": ["WU","WE","EU","EE"], "paddingInner": 0, "paddingOuter": 0}},
  "y": {"field": "v", "type": "quantitative", "title": null, "scale": {"domain": [0.6007, 3.0115], "nice": false, "zero": false}, "axis": {"values": [0.7,1.2,1.7,2.2,2.7], "format": ".1f"}}},
 "layer": [
  {"transform": [{"filter": "datum.g == 'WU'"}], "mark": {"type": "rule", "color": "#a3a3a3"}, "encoding": {"y": {"field": "lo", "type": "quantitative"}, "y2": {"field": "hi"}}},
  {"transform": [{"filter": "datum.g == 'WE'"}], "mark": {"type": "rule", "color": "#7f7f7f"}, "encoding": {"y": {"field": "lo", "type": "quantitative"}, "y2": {"field": "hi"}}},
  {"transform": [{"filter": "datum.g == 'EU'"}], "mark": {"type": "rule", "color": "#575757"}, "encoding": {"y": {"field": "lo", "type": "quantitative"}, "y2": {"field": "hi"}}},
  {"transform": [{"filter": "datum.g == 'EE'"}], "mark": {"type": "rule", "color": "#000000"}, "encoding": {"y": {"field": "lo", "type": "quantitative"}, "y2": {"field": "hi"}}},
  {"mark": {"type": "point"}, "encoding": {
   "color": {"field": "g", "type": "nominal", "scale": {"domain": ["WU","WE","EU","EE"], "range": ["#a3a3a3","#7f7f7f","#575757","#000000"]}},
   "shape": {"field": "g", "type": "nominal", "scale": {"domain": ["WU","WE","EU","EE"], "range": ["square","circle","triangle-up","diamond"]}},
   "size": {"field": "g", "type": "nominal", "scale": {"type": "ordinal", "domain": ["WU","WE","EU","EE"], "range": [85,95,135,85]}}}}
 ]},
{"title": {"text": "Formal depression diagnosis", "dx": 1}, "width": 346, "height": 284, "data": {"name": "diag"},
 "encoding": {"x": {"field": "yr", "type": "ordinal", "title": null, "scale": {"type": "band", "domain": [2009,2010,2011,2012,2013,2014,2015,2016,2017,2018,2019], "paddingInner": 0.4, "paddingOuter": 0, "range": [14.94, 335.06]}, "axis": {"values": [2009,2010,2011,2012,2013,2014,2015,2016,2017,2018,2019]}},
  "xOffset": {"field": "g", "type": "nominal", "scale": {"domain": ["WU","WE","EU","EE"], "paddingInner": 0, "paddingOuter": 0}},
  "y": {"field": "v", "type": "quantitative", "title": null, "scale": {"domain": [-0.0086, 0.2], "nice": false, "zero": false}, "axis": {"values": [0], "format": "d"}}},
 "layer": [
  {"transform": [{"filter": "datum.g == 'WU'"}], "mark": {"type": "rule", "color": "#a3a3a3", "clip": true}, "encoding": {"y": {"field": "lo", "type": "quantitative"}, "y2": {"field": "hi"}}},
  {"transform": [{"filter": "datum.g == 'WE'"}], "mark": {"type": "rule", "color": "#7f7f7f", "clip": true}, "encoding": {"y": {"field": "lo", "type": "quantitative"}, "y2": {"field": "hi"}}},
  {"transform": [{"filter": "datum.g == 'EU'"}], "mark": {"type": "rule", "color": "#575757", "clip": true}, "encoding": {"y": {"field": "lo", "type": "quantitative"}, "y2": {"field": "hi"}}},
  {"transform": [{"filter": "datum.g == 'EE'"}], "mark": {"type": "rule", "color": "#000000", "clip": true}, "encoding": {"y": {"field": "lo", "type": "quantitative"}, "y2": {"field": "hi"}}},
  {"mark": {"type": "point", "clip": true}, "encoding": {
   "color": {"field": "g", "type": "nominal", "scale": {"domain": ["WU","WE","EU","EE"], "range": ["#a3a3a3","#7f7f7f","#575757","#000000"]}},
   "shape": {"field": "g", "type": "nominal", "scale": {"domain": ["WU","WE","EU","EE"], "range": ["square","circle","triangle-up","diamond"]}},
   "size": {"field": "g", "type": "nominal", "scale": {"type": "ordinal", "domain": ["WU","WE","EU","EE"], "range": [85,95,135,85]}}}}
 ]}
]
}
